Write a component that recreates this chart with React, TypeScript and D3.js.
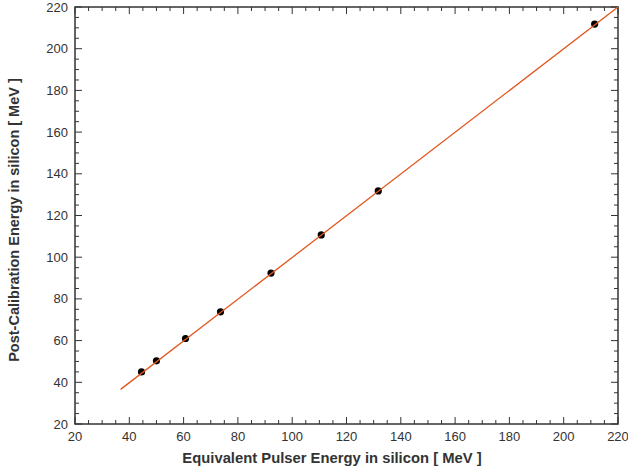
import React, { useRef, useEffect } from 'react';
import * as d3 from 'd3';

// measured points (pulser energy vs post-calibration energy, MeV)
const pulserEnergy = [44.5, 50.0, 60.7, 73.6, 92.2, 110.7, 131.7, 211.4];
const calibEnergy = [45.0, 50.3, 61.0, 73.8, 92.4, 110.7, 131.8, 211.8];
// fit line end points
const fitX = [36.8, 220];
const fitY = [36.6, 220];
const majorTicks = [20, 40, 60, 80, 100, 120, 140, 160, 180, 200, 220];

const App = () => {
  const svgRef = useRef<SVGSVGElement>(null);

  useEffect(() => {
    const W = 628, H = 468;
    const left = 75, right = 618, top = 7, bottom = 424;
    const svg = d3.select(svgRef.current);
    svg.selectAll('*').remove();
    svg.attr('width', W).attr('height', H);

    const x = d3.scaleLinear().domain([20, 220]).range([left, right]);
    const y = d3.scaleLinear().domain([20, 220]).range([bottom, top]);
    const minor = d3.range(20, 221, 5);
    const font = 'Helvetica, "Liberation Sans", Arial, sans-serif';
    const axisColor = '#333';

    const g = svg.append('g');

    // ticks on all four sides, pointing inwards
    const tickLen = (v: number) => (v % 20 === 0 ? 7 : 4);
    minor.forEach((v) => {
      const L = tickLen(v);
      g.append('line').attr('x1', x(v)).attr('x2', x(v)).attr('y1', bottom).attr('y2', bottom - L).attr('stroke', axisColor);
      g.append('line').attr('x1', x(v)).attr('x2', x(v)).attr('y1', top).attr('y2', top + L).attr('stroke', axisColor);
      g.append('line').attr('y1', y(v)).attr('y2', y(v)).attr('x1', left).attr('x2', left + L).attr('stroke', axisColor);
      g.append('line').attr('y1', y(v)).attr('y2', y(v)).attr('x1', right).attr('x2', right - L).attr('stroke', axisColor);
    });

    g.append('rect')
      .attr('x', left).attr('y', top)
      .attr('width', right - left).attr('height', bottom - top)
      .attr('fill', 'none').attr('stroke', axisColor).attr('stroke-width', 1.5);

    g.selectAll('.xl').data(majorTicks).enter().append('text')
      .attr('x', (d) => x(d)).attr('y', bottom + 17)
      .attr('text-anchor', 'middle')
      .attr('font-family', font).attr('font-size', 13).attr('fill', '#333')
      .text((d) => d);

    g.selectAll('.yl').data(majorTicks).enter().append('text')
      .attr('x', left - 7).attr('y', (d) => y(d) + 4.5)
      .attr('text-anchor', 'end')
      .attr('font-family', font).attr('font-size', 13).attr('fill', '#333')
      .text((d) => d);

    g.append('text')
      .attr('x', 332).attr('y', 463)
      .attr('text-anchor', 'middle')
      .attr('font-family', font).attr('font-size', 14.8).attr('font-weight', 'bold').attr('fill', '#333')
      .text('Equivalent Pulser Energy in silicon [ MeV ]');

    g.append('text')
      .attr('transform', 'translate(19,220) rotate(-90)')
      .attr('text-anchor', 'middle')
      .attr('font-family', font).attr('font-size', 14.5).attr('font-weight', 'bold').attr('fill', '#333')
      .text('Post-Calibration Energy in silicon [ MeV ]');

    const pts = pulserEnergy.map((v, i) => [v, calibEnergy[i]]);
    g.selectAll('circle').data(pts).enter().append('circle')
      .attr('cx', (d) => x(d[0])).attr('cy', (d) => y(d[1]))
      .attr('r', 3.6).attr('fill', '#000');

    const line = d3.line<number>().x((d) => x(d)).y((d, i) => y(fitY[i]));
    g.append('path')
      .datum(fitX)
      .attr('d', line)
      .attr('fill', 'none').attr('stroke', '#e2561c').attr('stroke-width', 1.3);
  }, []);

  return <svg ref={svgRef} style={{ position: 'absolute', left: 0, top: 0 }} />;
};

export default App;
